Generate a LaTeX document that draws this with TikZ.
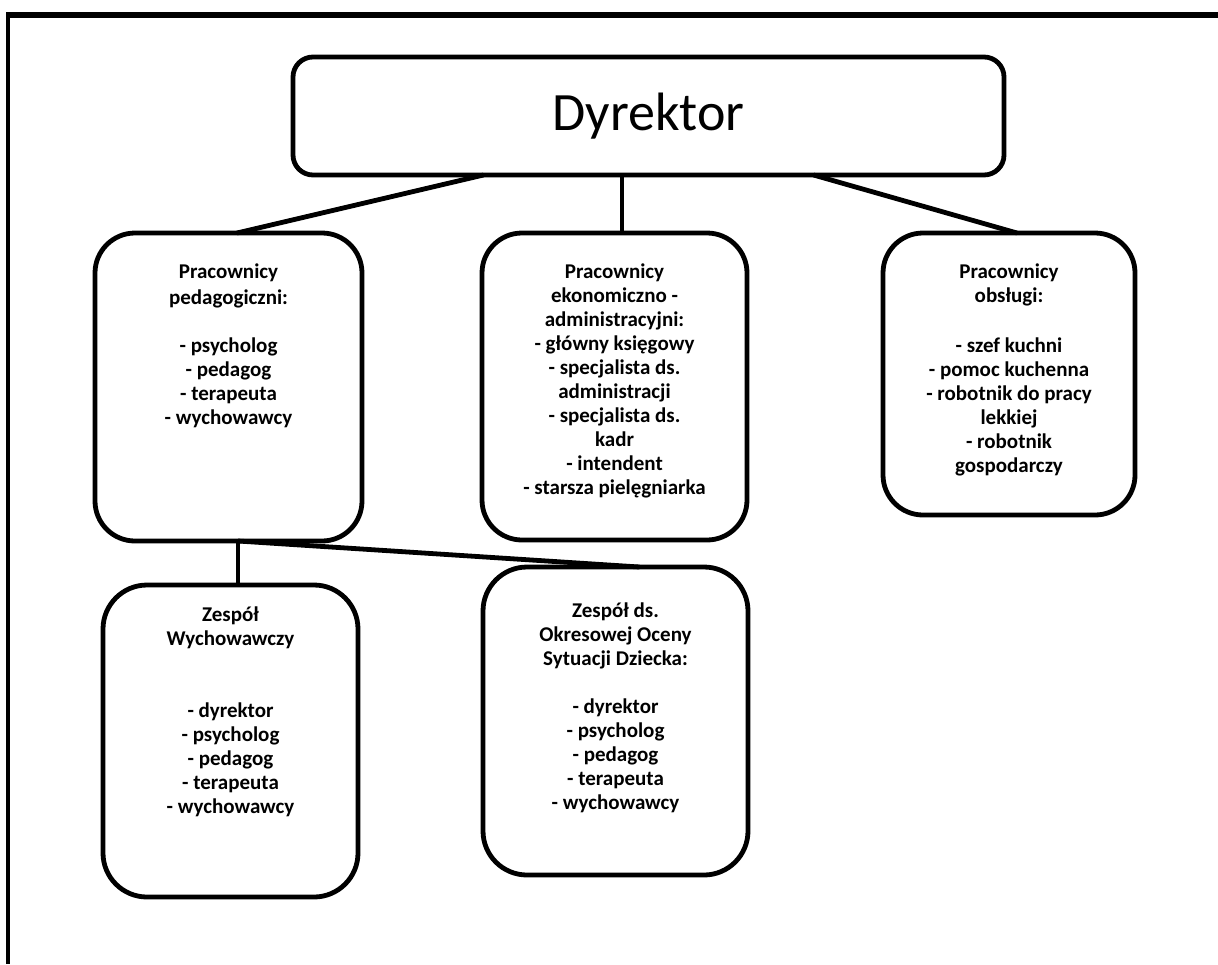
\documentclass[tikz,border=0pt]{standalone}
\usepackage{fontspec}
\setmainfont{Carlito}
\begin{document}
\begin{tikzpicture}[x=0.5pt,y=0.5pt,
  box/.style={draw=black,line width=2.4pt,rounded corners=20pt,outer sep=0pt,inner sep=0pt},
  boxtext/.style={inner sep=0pt,align=center,anchor=north,font=\fontsize{10.5}{12}\selectfont\bfseries},
  link/.style={line width=2.4pt}]
\useasboundingbox (0,0) rectangle (1218,-964);
\draw [line width=3pt] (6,-15) -- (1218,-15);
\draw [line width=2.2pt] (8,-15) -- (8,-964);
\node [box,rounded corners=10pt,minimum width=355.5pt,minimum height=59pt,font=\fontsize{27}{32}\selectfont] (dyr) at (648.5,-116) {Dyrektor};
\node [box,minimum width=133.5pt,minimum height=154pt] (p1) at (228.5,-387) {};
\node [boxtext] (p1t) at ([yshift=-15.3pt]p1.north) {Pracownicy\\[1pt]pedagogiczni:\\[12pt]- psycholog\\- pedagog\\- terapeuta\\- wychowawcy};
\node [box,minimum width=132.5pt,minimum height=153.5pt] (p2) at (614.5,-386.5) {};
\node [boxtext] (p2t) at ([yshift=-15.3pt]p2.north) {Pracownicy\\ekonomiczno -\\administracyjni:\\- główny księgowy\\- specjalista ds.\\administracji\\- specjalista ds.\\kadr\\- intendent\\- starsza pielęgniarka};
\node [box,minimum width=126pt,minimum height=141pt] (p3) at (1009,-374) {};
\node [boxtext] (p3t) at ([yshift=-15.3pt]p3.north) {Pracownicy\\obsługi:\\[13pt]- szef kuchni\\- pomoc kuchenna\\- robotnik do pracy\\lekkiej\\- robotnik\\gospodarczy};
\node [box,rounded corners=22pt,minimum width=127.5pt,minimum height=156pt] (z1) at (230.5,-741) {};
\node [boxtext] (z1t) at ([yshift=-10.5pt]z1.north) {Zespół\\Wychowawczy\\[24pt]- dyrektor\\- psycholog\\- pedagog\\- terapeuta\\- wychowawcy};
\node [box,rounded corners=22pt,minimum width=132.5pt,minimum height=154pt] (z2) at (615.5,-721) {};
\node [boxtext] (z2t) at ([yshift=-17.5pt]z2.north) {Zespół ds.\\Okresowej Oceny\\Sytuacji Dziecka:\\[12pt]- dyrektor\\- psycholog\\- pedagog\\- terapeuta\\- wychowawcy};
\coordinate (d2) at ([xshift=3.75pt]p2.north);
\coordinate (a1) at ([xshift=4.75pt]p1.south);
\draw [link] ([xshift=-82.5pt]dyr.south) -- ([xshift=4.25pt]p1.north);
\draw [link] (d2) -- (d2 |- dyr.south);
\draw [link] ([xshift=82.5pt]dyr.south) -- ([xshift=4pt]p3.north);
\draw [link] (a1) -- (a1 |- z1.north);
\draw [link] (a1) -- ([xshift=12pt]z2.north);
\end{tikzpicture}
\end{document}
